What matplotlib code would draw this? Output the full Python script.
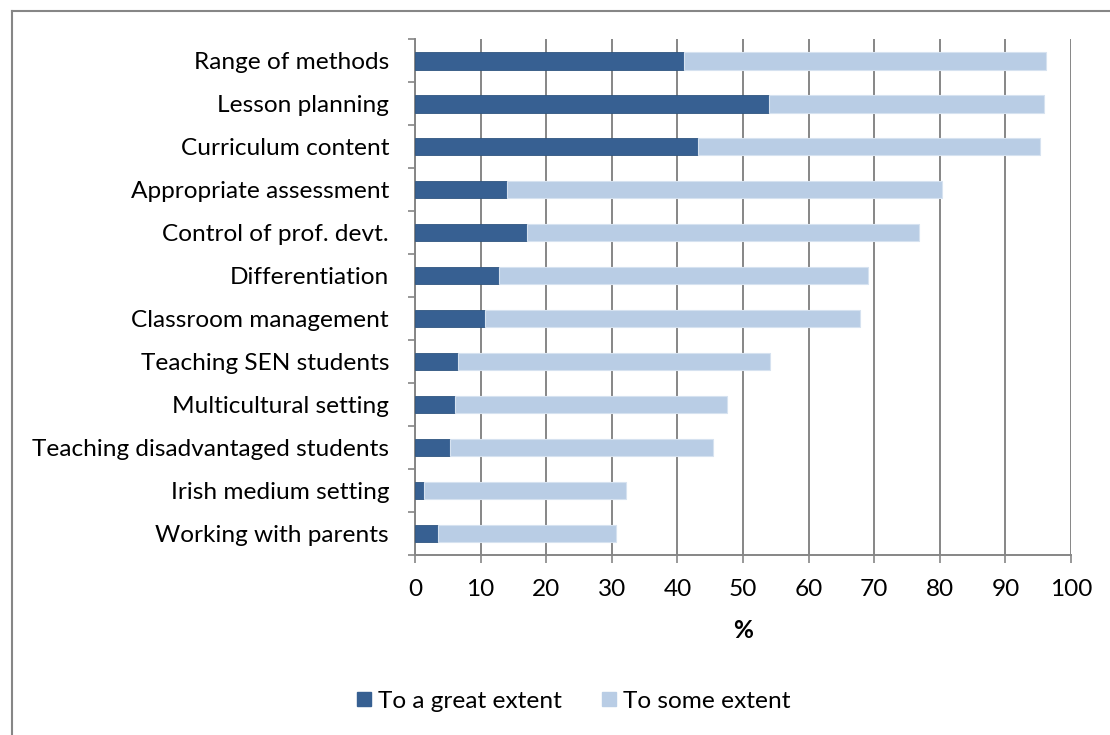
import matplotlib
matplotlib.use("Agg")
import matplotlib.pyplot as plt
from matplotlib.lines import Line2D

categories = ["Range of methods", "Lesson planning", "Curriculum content",
              "Appropriate assessment", "Control of prof. devt.", "Differentiation",
              "Classroom management", "Teaching SEN students", "Multicultural setting",
              "Teaching disadvantaged students", "Irish medium setting", "Working with parents"]
great_extent = [41.0, 53.9, 43.1, 14.0, 17.0, 12.8, 10.6, 6.5, 6.1, 5.4, 1.4, 3.5]
total = [96.2, 95.9, 95.3, 80.3, 76.8, 69.0, 67.9, 54.1, 47.6, 45.4, 32.2, 30.6]
some_extent = [t - g for t, g in zip(total, great_extent)]
series_names = ["To a great extent", "To some extent"]
xticks = list(range(0, 101, 10))

plt.rcParams['font.family'] = ['Lato', 'DejaVu Sans']
DARK = "#376092"
LIGHT = "#B9CDE5"
GRID = "#868686"
FS = 17.6

fig = plt.figure(figsize=(11.1, 7.35), dpi=100)
ax = fig.add_axes([415/1110, 1-555/735, 656/1110, (555-39.5)/735])

n = len(categories)
ypos = list(range(n))
ax.barh(ypos, great_extent, height=0.4, color=DARK, edgecolor="#2f5580", linewidth=0.6, zorder=3)
ax.barh(ypos, some_extent, left=great_extent, height=0.4, color=LIGHT, edgecolor="#d6e2f0", linewidth=0.8, zorder=3)

ax.set_ylim(n - 0.5, -0.5)
ax.set_xlim(0, 100)
ax.set_xticks(xticks)
ax.set_xticklabels([str(v) for v in xticks], fontsize=FS)
ax.set_yticks([i - 0.5 for i in range(n + 1)])
ax.set_yticklabels([])
ax.set_yticks(ypos, minor=True)
ax.set_yticklabels(categories, minor=True, fontsize=FS)
ax.tick_params(axis='y', which='minor', length=0, pad=26/1.389)
ax.tick_params(axis='y', which='major', length=5, width=1.2, color=GRID, direction='out')
ax.tick_params(axis='x', length=6, width=1.2, color=GRID, direction='out', pad=11)
ax.xaxis.grid(True, color=GRID, linewidth=1.4, zorder=0)
ax.set_axisbelow(True)
for s in ['top', 'right']:
    ax.spines[s].set_visible(False)
for s in ['left', 'bottom']:
    ax.spines[s].set_color(GRID)
    ax.spines[s].set_linewidth(1.4)
ax.set_xlabel("%", fontsize=FS, fontweight='bold', labelpad=14)

handles = [Line2D([], [], marker='s', linestyle='none', markersize=10, color=DARK),
           Line2D([], [], marker='s', linestyle='none', markersize=10, color=LIGHT)]
fig.legend(handles, series_names, loc='center', bbox_to_anchor=(571/1110, 1-701/735),
           ncol=2, frameon=False, fontsize=FS, handletextpad=0.05, columnspacing=1.45,
           handlelength=1.0)

# outer chart frame (extends beyond figure on right and bottom)
fig.add_artist(Line2D([12/1110, 1.01], [1-10.5/735]*2, color=GRID, linewidth=1.5, transform=fig.transFigure))
fig.add_artist(Line2D([12/1110]*2, [1-10.5/735, -0.01], color=GRID, linewidth=1.5, transform=fig.transFigure))

fig.savefig("out.png", dpi=100, facecolor="white")
